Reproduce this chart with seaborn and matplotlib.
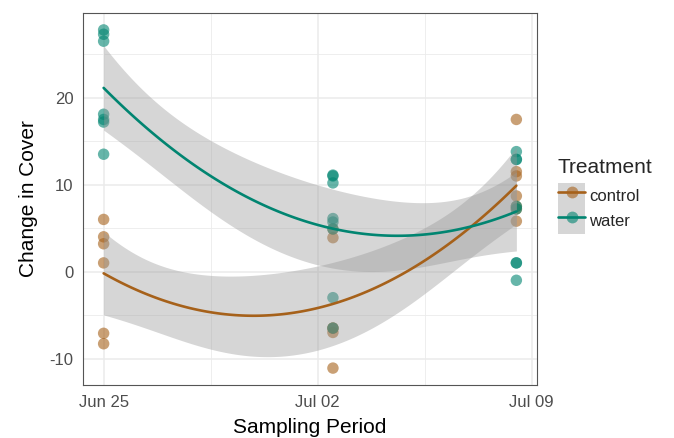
import numpy as np
import pandas as pd
import matplotlib
matplotlib.use("Agg")
import matplotlib.pyplot as plt
import matplotlib.dates as mdates
from matplotlib.patches import Patch
from matplotlib.lines import Line2D
from matplotlib.legend_handler import HandlerTuple
import seaborn as sns

# Sampling occasions and measured change in cover per plot
sampling_dates = ["2016-06-25 00:00", "2016-07-02 12:00", "2016-07-08 12:00"]
treatments = ["control", "water"]
control_cover = [
    [6.0, 4.0, 3.2, 1.0, -7.1, -8.3],
    [4.9, 3.9, -6.5, -6.5, -7.0, -11.1],
    [17.5, 11.5, 11.0, 8.7, 7.5, 7.2, 5.8],
]
water_cover = [
    [27.8, 27.3, 26.5, 18.1, 17.5, 17.2, 13.5],
    [11.1, 11.0, 10.2, 6.1, 5.7, 4.9, -3.0, -6.5],
    [13.8, 12.9, 12.9, 7.5, 7.2, 1.0, 1.0, -1.0],
]
x_tick_dates = ["2016-06-25", "2016-07-02", "2016-07-09"]
y_ticks = [-10, 0, 10, 20]
palette = {"control": "#A6611A", "water": "#018571"}

rows = []
for trt, groups in zip(treatments, [control_cover, water_cover]):
    for d, vals in zip(sampling_dates, groups):
        for v in vals:
            rows.append({"Treatment": trt, "Date": pd.Timestamp(d), "Change": v})
df = pd.DataFrame(rows)
df["xnum"] = mdates.date2num(df["Date"])

sns.set_style("white")
plt.rcParams["font.family"] = ["Liberation Sans", "DejaVu Sans"]
plt.rcParams["axes.unicode_minus"] = False

fig = plt.figure(figsize=(6.74, 4.38), dpi=100)
ax = fig.add_axes([83 / 674, 1 - 385 / 438, (537 - 83) / 674, (385 - 13) / 438])

sns.scatterplot(data=df, x="xnum", y="Change", hue="Treatment", palette=palette,
                alpha=0.6, s=68, edgecolor="none", legend=False, ax=ax, zorder=3)


def t_quantile(df_res, z=1.959964):
    # Cornish-Fisher expansion of the Student t 97.5% quantile
    return (z + (z**3 + z) / (4 * df_res)
            + (5 * z**5 + 16 * z**3 + 3 * z) / (96 * df_res**2)
            + (3 * z**7 + 19 * z**5 + 17 * z**3 - 15 * z) / (384 * df_res**3))


x0 = df["xnum"].min()
for trt in treatments:
    sub = df[df["Treatment"] == trt]
    x = sub["xnum"].to_numpy() - x0
    y = sub["Change"].to_numpy()
    X = np.column_stack([np.ones_like(x), x, x**2])
    beta, *_ = np.linalg.lstsq(X, y, rcond=None)
    resid = y - X @ beta
    dof = len(y) - 3
    s2 = resid @ resid / dof
    cov = s2 * np.linalg.inv(X.T @ X)
    grid = np.linspace(x.min(), x.max(), 120)
    G = np.column_stack([np.ones_like(grid), grid, grid**2])
    fit = G @ beta
    se = np.sqrt(np.einsum("ij,jk,ik->i", G, cov, G))
    tq = t_quantile(dof)
    ax.fill_between(grid + x0, fit - tq * se, fit + tq * se, color="#999999",
                    alpha=0.4, linewidth=0, zorder=4)
    sns.lineplot(x=grid + x0, y=fit, color=palette[trt], linewidth=1.9, ax=ax, zorder=5)

tick_nums = mdates.date2num(pd.to_datetime(x_tick_dates))
ax.set_xticks(tick_nums)
ax.set_xticklabels([pd.Timestamp(t).strftime("%b %d") for t in x_tick_dates])
ax.set_xticks((tick_nums[:-1] + tick_nums[1:]) / 2, minor=True)
ax.set_yticks(y_ticks)
ax.set_yticks([-5, 5, 15, 25], minor=True)

xmin, xmax = df["xnum"].min(), df["xnum"].max()
xpad = 0.05 * (xmax - xmin)
ymin, ymax = df["Change"].min(), df["Change"].max()
ypad = 0.05 * (ymax - ymin)
ax.set_xlim(xmin - xpad, xmax + xpad)
ax.set_ylim(ymin - ypad, ymax + ypad)

ax.grid(True, which="major", color="#EBEBEB", linewidth=1.1, zorder=0)
ax.grid(True, which="minor", color="#EBEBEB", linewidth=0.6, zorder=0)
ax.set_axisbelow(True)
for sp in ax.spines.values():
    sp.set_color("#555555")
    sp.set_linewidth(0.8)
ax.tick_params(which="major", length=4, width=0.8, color="#555555",
               labelsize=12, labelcolor="#4D4D4D", pad=3)
ax.tick_params(which="minor", length=0)

ax.set_xlabel("Sampling Period", fontsize=15, color="black", labelpad=6)
ax.set_ylabel("Change in Cover", fontsize=15, color="black", labelpad=8)

handles = []
for trt in treatments:
    c = palette[trt]
    handles.append((
        Patch(facecolor="#999999", alpha=0.4, edgecolor="none"),
        Line2D([], [], color=c, linewidth=1.9),
        Line2D([], [], linestyle="none", marker="o", markersize=8.5,
               markerfacecolor=c, markeredgecolor="none", alpha=0.6),
    ))
leg = fig.legend(handles, treatments, title="Treatment",
                 handler_map={tuple: HandlerTuple(ndivide=1)},
                 loc="upper left", bbox_to_anchor=(558 / 674, 1 - 158 / 438),
                 frameon=False, fontsize=12, title_fontsize=15,
                 handlelength=1.62, handleheight=2.0, labelspacing=0.0,
                 handletextpad=0.25, borderpad=0, borderaxespad=0)
leg._legend_box.align = "left"
leg._legend_box.sep = 4

fig.savefig("out.png", dpi=100)
